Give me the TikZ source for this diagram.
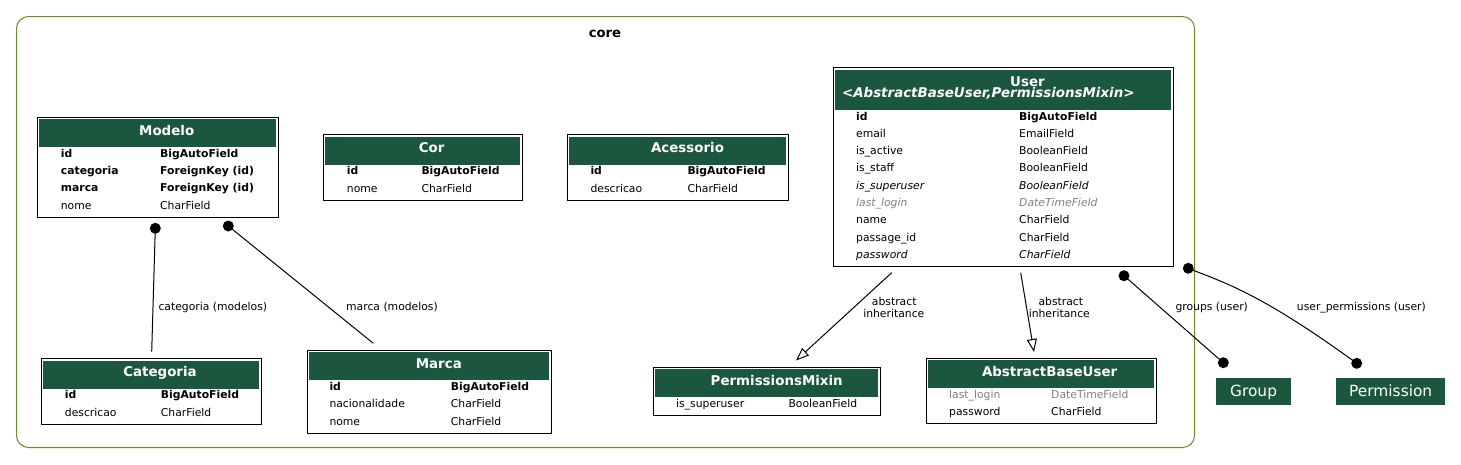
\documentclass[tikz,border=0pt]{standalone}
\usepackage{fontspec}
\setmainfont{DejaVu Sans}
\usetikzlibrary{arrows.meta}
\definecolor{hdrgreen}{HTML}{1B563F}
\definecolor{clusterc}{HTML}{6B8E23}
\definecolor{greytxt}{HTML}{808080}
\tikzset{
  tframe/.style={draw=black, line width=1pt, inner sep=0pt, fill=white},
  hdrbox/.style={fill=hdrgreen, inner sep=0pt},
  ttl/.style={font=\fontsize{13.4}{15}\selectfont\bfseries, text=white, inner sep=0pt, anchor=base},
  fld/.style={font=\fontsize{10.8}{12}\selectfont, inner sep=0pt, anchor=base west},
  fldb/.style={fld, font=\fontsize{10.8}{12}\selectfont\bfseries},
  fldi/.style={fld, font=\fontsize{10.8}{12}\selectfont\itshape},
  fldg/.style={fld, font=\fontsize{10.8}{12}\selectfont\itshape, text=greytxt},
  fldgr/.style={fld, text=greytxt},
  elbl/.style={font=\fontsize{10.8}{12}\selectfont, inner sep=0pt, anchor=base},
  elblw/.style={elbl, anchor=base west},
  dotn/.style={circle, fill=black, inner sep=0pt, minimum size=11pt},
  conn/.style={draw=black, line width=1pt},
  inh/.style={conn, -{Triangle[open, length=13pt, width=10pt, line width=1pt]}},
  extnode/.style={fill=hdrgreen, text=white, inner sep=0pt, font=\fontsize{15.4}{17}\selectfont},
}
\newcommand\ertable[6]{%
  \node[tframe, minimum width={#4-#2}, minimum height={#5-#3}, anchor=north west] (#1) at (#2,#3) {};
  \node[hdrbox, minimum width={#4-#2-4}, minimum height={#6-#3-2}, anchor=north west] (#1-h) at ({#2+2},{#3+2}) {};
}
\newcommand\errow[7]{%
  \node[#5] (#1a) at (#2,#4) {#6};
  \node[#5] (#1b) at (#3,#4) {#7};
}
\begin{document}
\begin{tikzpicture}[x=1pt, y=-1pt]
\useasboundingbox (0,0) rectangle (1461,464);
% cluster
\node[draw=clusterc, line width=1pt, rounded corners=12pt, minimum width=1178pt, minimum height=431pt, anchor=north west, inner sep=0pt] (core) at (16,16) {};
\node[font=\fontsize{13.2}{15}\selectfont\bfseries, inner sep=0pt, anchor=base] (corelbl) at (605,37.5) {core};

% Modelo
\ertable{modelo}{36.7}{116.7}{277.7}{216.7}{146.7}
\node[ttl] (modelo-t) at (166.7,135) {Modelo};
\errow{modelo-1}{60.7}{160}{157.3}{fldb}{id}{BigAutoField}
\errow{modelo-2}{60.7}{160}{174.6}{fldb}{categoria}{ForeignKey (id)}
\errow{modelo-3}{60.7}{160}{191.9}{fldb}{marca}{ForeignKey (id)}
\errow{modelo-4}{60.7}{160}{209.2}{fld}{nome}{CharField}

% Cor
\ertable{cor}{322.7}{134.3}{521.7}{199.6}{164.3}
\node[ttl] (cor-t) at (431.7,152.6) {Cor};
\errow{cor-1}{346.7}{421.3}{174.9}{fldb}{id}{BigAutoField}
\errow{cor-2}{346.7}{421.3}{192.2}{fld}{nome}{CharField}

% Acessorio
\ertable{aces}{566.7}{134.3}{787.7}{199.6}{164.3}
\node[ttl] (aces-t) at (687.5,152.6) {Acessorio};
\errow{aces-1}{590.3}{687.3}{174.9}{fldb}{id}{BigAutoField}
\errow{aces-2}{590.3}{687.3}{192.2}{fld}{descricao}{CharField}

% User
\ertable{user}{832.7}{67.3}{1172.7}{265.8}{110}
\node[ttl] (user-t) at (1027.5,86) {User};
\node[ttl, font=\fontsize{13.4}{15}\selectfont\bfseries\itshape] (user-t2) at (988.3,97.8) {<AbstractBaseUser,PermissionsMixin>};
\errow{user-1}{856}{1019}{120}{fldb}{id}{BigAutoField}
\errow{user-2}{856}{1019}{137.3}{fld}{email}{EmailField}
\errow{user-3}{856}{1019}{154.6}{fld}{is\_active}{BooleanField}
\errow{user-4}{856}{1019}{171.9}{fld}{is\_staff}{BooleanField}
\errow{user-5}{856}{1019}{189.2}{fldi}{is\_superuser}{BooleanField}
\errow{user-6}{856}{1019}{206.5}{fldg}{last\_login}{DateTimeField}
\errow{user-7}{856}{1019}{223.8}{fld}{name}{CharField}
\errow{user-8}{856}{1019}{241.1}{fld}{passage\_id}{CharField}
\errow{user-9}{856}{1019}{258.4}{fldi}{password}{CharField}

% Categoria
\ertable{cat}{40.7}{358.3}{260.7}{423.6}{388.3}
\node[ttl] (cat-t) at (160,376.6) {Categoria};
\errow{cat-1}{64.7}{160.7}{398.9}{fldb}{id}{BigAutoField}
\errow{cat-2}{64.7}{160.7}{416.2}{fld}{descricao}{CharField}

% Marca
\ertable{marca}{306.7}{350}{550.7}{432.6}{380}
\node[ttl] (marca-t) at (438.8,368.3) {Marca};
\errow{marca-1}{329.3}{450.7}{390.6}{fldb}{id}{BigAutoField}
\errow{marca-2}{329.3}{450.7}{407.9}{fld}{nacionalidade}{CharField}
\errow{marca-3}{329.3}{450.7}{425.2}{fld}{nome}{CharField}

% PermissionsMixin
\ertable{pm}{652.7}{366.7}{880}{414.7}{396.7}
\node[ttl] (pm-t) at (776.7,385) {PermissionsMixin};
\errow{pm-1}{676}{788.3}{407.3}{fld}{is\_superuser}{BooleanField}

% AbstractBaseUser
\ertable{abu}{926}{357.8}{1156}{423.1}{387.8}
\node[ttl] (abu-t) at (1049.6,376.1) {AbstractBaseUser};
\errow{abu-1}{949}{1051}{398.4}{fldgr}{last\_login}{DateTimeField}
\errow{abu-2}{949}{1051}{415.7}{fld}{password}{CharField}

% external nodes
\node[extnode, minimum width=74.7pt, minimum height=27.7pt, anchor=north west] (group) at (1216,377.3) {};
\node[extnode, anchor=base] (group-t) at (group.center) [yshift=-5.3pt] {Group};
\node[extnode, minimum width=109pt, minimum height=27.7pt, anchor=north west] (perm) at (1336,377.3) {};
\node[extnode, anchor=base] (perm-t) at (perm.center) [yshift=-5.3pt] {Permission};

% connectors
\coordinate (e1end) at (151.7,351.7);
\coordinate (e2end) at (373.3,343.3);
\node[dotn] (d1) at (155.3,228.3) {};
\node[dotn] (d2) at (228.3,226) {};
\draw[conn] (d1.center) -- (e1end);
\draw[conn] (d2.center) -- (e2end);
\node[elblw] (l1) at (158.3,310.7) {categoria (modelos)};
\node[elblw] (l2) at (346,310.7) {marca (modelos)};

\coordinate (i1s) at (891.7,272.7);
\coordinate (i1e) at (796,360.5);
\coordinate (i2s) at (1020.7,272.7);
\coordinate (i2e) at (1034,352);
\draw[inh] (i1s) -- (i1e);
\draw[inh] (i2s) -- (i2e);
\node[elbl] (l3a) at (894.2,305.3) {abstract};
\node[elbl] (l3b) at (893.8,317) {inheritance};
\node[elbl] (l4a) at (1060.8,305.3) {abstract};
\node[elbl] (l4b) at (1059.3,317) {inheritance};

\node[dotn] (d3) at (1124,275.7) {};
\node[dotn] (d4) at (1223.3,362.7) {};
\draw[conn] (d3.center) -- (d4.center);
\node[elbl] (l5) at (1211.7,310.7) {groups (user)};

\node[dotn] (d5) at (1188.3,268.3) {};
\node[dotn] (d6) at (1356.7,363.3) {};
\draw[conn] (d5.center) .. controls (1225,283) and (1260,293) .. (d6.center);
\node[elblw] (l6) at (1296.7,310.7) {user\_permissions (user)};
\end{tikzpicture}
\end{document}
